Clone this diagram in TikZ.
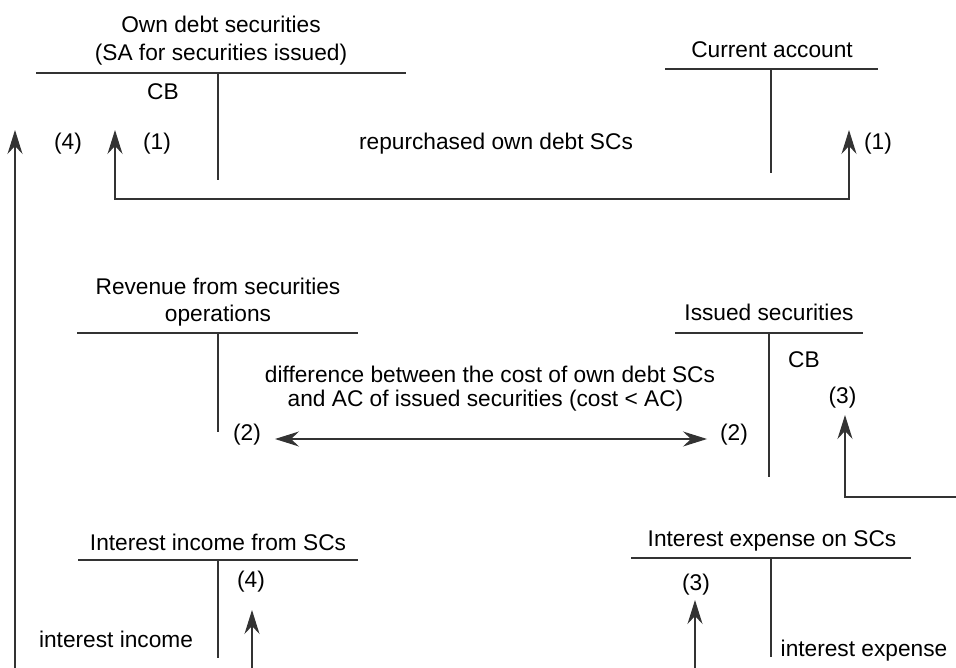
\documentclass[tikz,border=0pt]{standalone}
\usepackage{fontspec}
\setmainfont{Liberation Sans}
\usetikzlibrary{arrows.meta}
\begin{document}
\begin{tikzpicture}[x=1pt,y=-1pt,
  >={Stealth[length=24pt,width=15pt,inset=8pt]},
  lbl/.style={inner sep=0pt, anchor=base, font=\fontsize{22.7}{27}\selectfont},
  rule/.style={draw=black!80, line width=1.1pt},
  flow/.style={draw=black!80, line width=1.1pt, ->},
  flowboth/.style={draw=black!80, line width=1.1pt, <->},
]
\useasboundingbox (0,0) rectangle (956,668);

% ---- Own debt securities (SA for securities issued)
\node[lbl] (odsA) at (221,33) {Own debt securities};
\node[lbl] (odsB) at (221,61) {(SA for securities issued)};
\coordinate (odsL) at (36,73);  \coordinate (odsR) at (406,73);
\coordinate (odsT) at (218,73); \coordinate (odsS) at (218,180);
\draw[rule] (odsL) -- (odsR);
\draw[rule] (odsT) -- (odsS);
\node[lbl] (odsCB) at (163,100) {CB};
\node[lbl] (ods4) at (68,150) {(4)};
\node[lbl] (ods1) at (157,150) {(1)};

% ---- Current account
\node[lbl] (ca) at (772,58) {Current account};
\coordinate (caL) at (665,69);  \coordinate (caR) at (878,69);
\coordinate (caT) at (771,69);  \coordinate (caS) at (771,173);
\draw[rule] (caL) -- (caR);
\draw[rule] (caT) -- (caS);
\node[lbl] (ca1) at (878,150) {(1)};

\node[lbl] (rep) at (496,150) {repurchased own debt SCs};

% ---- Revenue from securities operations
\node[lbl] (revA) at (218,295) {Revenue from securities};
\node[lbl] (revB) at (218,322) {operations};
\coordinate (revL) at (77,333);  \coordinate (revR) at (358,333);
\coordinate (revT) at (218,333); \coordinate (revS) at (218,432);
\draw[rule] (revL) -- (revR);
\draw[rule] (revT) -- (revS);
\node[lbl] (rev2) at (247,440) {(2)};

% ---- Issued securities
\node[lbl] (iss) at (769,321) {Issued securities};
\coordinate (issL) at (675,333); \coordinate (issR) at (863,333);
\coordinate (issT) at (769,333); \coordinate (issS) at (769,477);
\draw[rule] (issL) -- (issR);
\draw[rule] (issT) -- (issS);
\node[lbl] (issCB) at (804,367) {CB};
\node[lbl] (iss3) at (842.5,403) {(3)};
\node[lbl] (iss2) at (734,440) {(2)};

\node[lbl] (difA) at (490,382) {difference between the cost of own debt SCs};
\node[lbl] (difB) at (485.5,406) {and AC of issued securities (cost < AC)};

% ---- Interest income from SCs
\node[lbl] (inc) at (218,550) {Interest income from SCs};
\coordinate (incL) at (78,560);  \coordinate (incR) at (358,560);
\coordinate (incT) at (218,560); \coordinate (incS) at (218,658);
\draw[rule] (incL) -- (incR);
\draw[rule] (incT) -- (incS);
\node[lbl] (inc4) at (251,587) {(4)};
\node[lbl] (incTxt) at (116,647) {interest income};

% ---- Interest expense on SCs
\node[lbl] (exp) at (772,546) {Interest expense on SCs};
\coordinate (expL) at (631,558); \coordinate (expR) at (911,558);
\coordinate (expT) at (771,558); \coordinate (expS) at (771,657);
\draw[rule] (expL) -- (expR);
\draw[rule] (expT) -- (expS);
\node[lbl] (exp3) at (696,590) {(3)};
\node[lbl] (expTxt) at (864,656) {interest expense};

% ---- Posting arrows
% (1) repurchase: current account -> own debt securities
\coordinate (a1L) at (115,130);
\coordinate (a1R) at (849,130);
\coordinate (a1M) at (480,199);
\draw[flowboth] (a1L) |- (a1M) -| (a1R);

% (4) interest income -> own debt securities
\coordinate (a4top) at (15,130);
\coordinate (a4bot) at (15,668);
\draw[flow] (a4bot) -- (a4top);
\coordinate (a4inc) at (252,610);
\coordinate (a4incB) at (252,668);
\draw[flow] (a4incB) -- (a4inc);

% (2) difference between cost and AC
\coordinate (a2L) at (275,439);
\coordinate (a2R) at (707,439);
\draw[flowboth] (a2L) -- (a2R);

% (3) interest expense -> issued securities
\coordinate (a3top) at (845,415);
\coordinate (a3out) at (956,497);
\draw[flow] (a3out) -| (a3top);
\coordinate (a3exp) at (695,600);
\coordinate (a3expB) at (695,668);
\draw[flow] (a3expB) -- (a3exp);
\end{tikzpicture}
\end{document}
